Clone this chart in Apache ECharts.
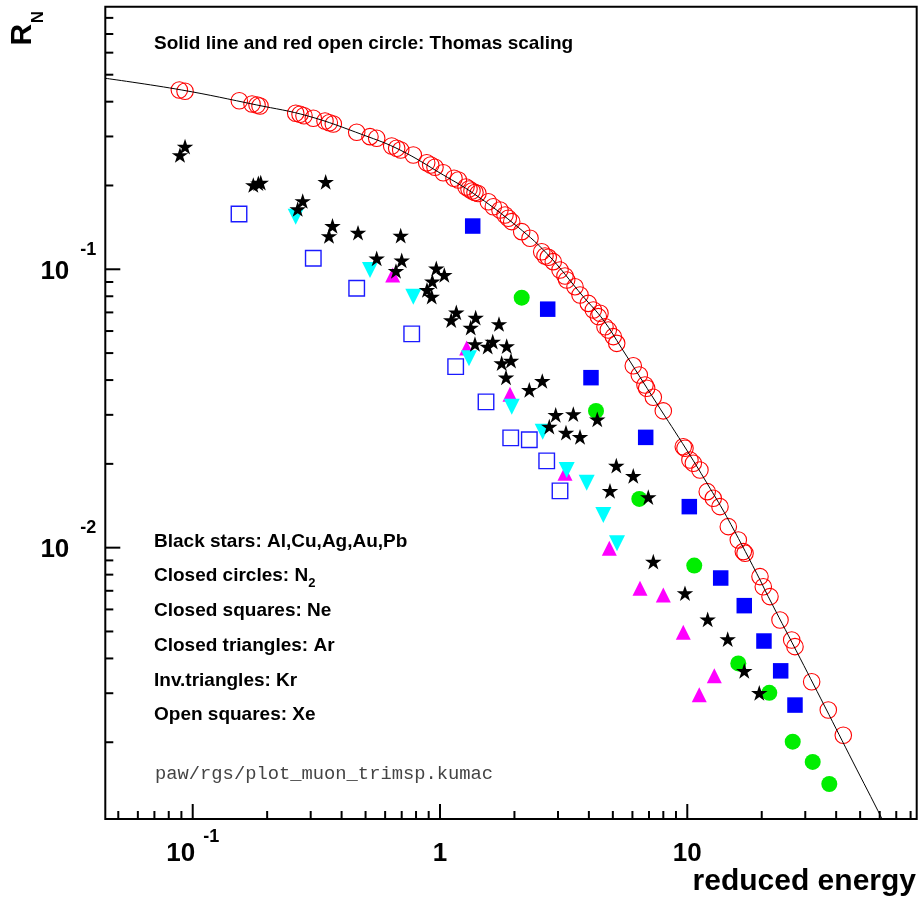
<!DOCTYPE html>
<html><head><meta charset="utf-8">
<script src="https://cdn.jsdelivr.net/npm/echarts@6/dist/echarts.min.js"></script>
<style>html,body{margin:0;padding:0;background:#fff}#c{width:918px;height:899px}</style>
</head><body><div id="c"></div>
<script>
// ---- axis ranges & ticks ----
const X_MIN = 0.04431, X_MAX = 84.67;
const Y_MIN = 0.001060, Y_MAX = 0.8775;
const xMajorTicks = [0.1, 1, 10];
const xMajorLabels = ['{b|10}{e|-1}', '{b|1}', '{b|10}'];
const xMinorTicks = [0.05,0.06,0.07,0.08,0.09,0.2,0.3,0.4,0.5,0.6,0.7,0.8,0.9,2,3,4,5,6,7,8,9,20,30,40,50,60,70,80];
const yMajorTicks = [0.01, 0.1];
const yMajorLabels = ['{b|10}{e|-2}', '{b|10}{e|-1}'];
const yMinorTicks = [0.002,0.003,0.004,0.005,0.006,0.007,0.008,0.009,0.02,0.03,0.04,0.05,0.06,0.07,0.08,0.09,0.2,0.3,0.4,0.5,0.6,0.7,0.8];

// ---- data: [reduced energy, R_N] ----
const thomasLine = [[0.04431,0.4854],[0.0903,0.4406],[0.1815,0.3893],[0.2925,0.3553],[0.4897,0.3037],[0.6892,0.2683],[1.031,0.2182],[1.363,0.1875],[1.979,0.1463],[2.701,0.1141],[3.797,0.07971],[4.575,0.06575],[5.429,0.05201],[7.519,0.03301],[9.945,0.02243],[12.36,0.01634],[14.43,0.01292],[19.08,0.008091],[21.26,0.006668],[27.51,0.004283],[36.06,0.002678],[46.77,0.001699],[61.1,0.001067],[63.0,0.00100]];
const thomasPoints = [[0.0883,0.4405],[0.0931,0.4358],[0.1543,0.4031],[0.1737,0.3923],[0.1820,0.3891],[0.1871,0.3859],[0.2609,0.3634],[0.2716,0.3604],[0.2818,0.3562],[0.3073,0.3487],[0.3427,0.3408],[0.3568,0.3361],[0.3703,0.3325],[0.4604,0.3106],[0.5210,0.2995],[0.5546,0.2955],[0.6377,0.2772],[0.6681,0.2720],[0.6935,0.2682],[0.7799,0.2573],[0.8835,0.2415],[0.9171,0.2369],[0.9545,0.2325],[1.031,0.2223],[1.139,0.2123],[1.186,0.2093],[1.274,0.1975],[1.310,0.1943],[1.347,0.1911],[1.385,0.1887],[1.424,0.1872],[1.568,0.1749],[1.643,0.1678],[1.748,0.1633],[1.832,0.1567],[1.889,0.1525],[1.950,0.1483],[2.140,0.1365],[2.312,0.1292],[2.578,0.1156],[2.658,0.1116],[2.741,0.1104],[2.871,0.1065],[3.057,0.0994],[3.202,0.0946],[3.253,0.0915],[3.515,0.0866],[3.683,0.0808],[3.978,0.0754],[4.169,0.0714],[4.366,0.0676],[4.436,0.0695],[4.647,0.0622],[4.793,0.0605],[5.022,0.0573],[5.183,0.0542],[6.047,0.0450],[6.396,0.0417],[6.745,0.0384],[6.852,0.0374],[7.288,0.0347],[7.998,0.0310],[9.634,0.02305],[9.788,0.02275],[10.25,0.02065],[10.58,0.02010],[11.25,0.01901],[12.04,0.01589],[12.74,0.01504],[13.56,0.01404],[14.65,0.01190],[16.08,0.01066],[16.85,0.00968],[17.12,0.00955],[19.68,0.00787],[20.29,0.00724],[21.60,0.00667],[23.71,0.00550],[26.44,0.00466],[27.26,0.00441],[31.84,0.00330],[37.17,0.00261],[42.74,0.00212]];
const starsMetals = [[0.0888,0.2573],[0.0931,0.2757],[0.1758,0.2008],[0.1842,0.2037],[0.1884,0.2047],[0.2658,0.1646],[0.2785,0.1759],[0.3449,0.2059],[0.3675,0.1433],[0.3557,0.1317],[0.4661,0.1353],[0.6935,0.1320],[0.5546,0.1095],[0.7002,0.1077],[0.6637,0.0986],[0.9660,0.1008],[1.041,0.0954],[0.9309,0.0904],[0.8860,0.0843],[0.9256,0.0797],[1.164,0.0700],[1.110,0.0657],[1.394,0.0670],[1.331,0.0617],[1.732,0.0636],[1.385,0.0539],[1.559,0.0527],[1.634,0.0550],[1.861,0.0530],[1.776,0.0460],[1.937,0.0470],[1.849,0.0409],[2.297,0.0369],[2.592,0.0397],[2.937,0.0300],[3.460,0.0302],[4.325,0.0289],[2.767,0.0272],[3.232,0.0259],[3.683,0.0250],[5.164,0.0197],[4.869,0.0160],[6.047,0.0181],[6.955,0.0152],[7.288,0.00891],[9.788,0.00686],[12.09,0.00553],[14.57,0.00469],[17.00,0.00361],[19.55,0.00301]];
const circlesN2 = [[2.140,0.0791],[4.274,0.0310],[6.396,0.01496],[10.67,0.00862],[16.08,0.00384],[21.46,0.00301],[26.69,0.00201],[32.15,0.00170],[37.52,0.001416],[43.02,0.001017]];
const squaresNe = [[1.356,0.1430],[2.726,0.0719],[4.079,0.0408],[6.789,0.0249],[10.19,0.01404],[13.65,0.00778],[17.00,0.00619],[20.42,0.00462],[23.86,0.00361],[27.26,0.00272]];
const trianglesAr = [[0.6437,0.0954],[1.282,0.0522],[1.919,0.0356],[3.202,0.0185],[4.837,0.00995],[6.438,0.00715],[7.998,0.00676],[9.634,0.00497],[12.86,0.00347],[11.18,0.00296]];
const invTrianglesKr = [[0.2609,0.1545],[0.5210,0.0994],[0.7799,0.0797],[1.310,0.0479],[1.950,0.0321],[2.602,0.0261],[3.253,0.0190],[3.920,0.0171],[4.575,0.0131],[5.197,0.01037]];
const openSquaresXe = [[0.1539,0.1580],[0.3073,0.1095],[0.4604,0.0855],[0.7684,0.0586],[1.157,0.0447],[1.535,0.0334],[1.932,0.0248],[2.297,0.0244],[2.701,0.0205],[3.057,0.0160]];

// ---- texts ----
const titleText = 'Solid line and red open circle: Thomas scaling';
const legendLines = ['Black stars: Al,Cu,Ag,Au,Pb', '{m|Closed circles: N}{s|2}', 'Closed squares: Ne', 'Closed triangles: Ar', 'Inv.triangles: Kr', 'Open squares: Xe'];
const legendY = [541.3, 576, 610.3, 645.5, 680.3, 715];
const macroText = 'paw/rgs/plot_muon_trimsp.kumac';
const xTitle = 'reduced energy';

const FF = '"Liberation Sans", Arial, Helvetica, sans-serif';
const STAR = 'path://M50,0L61.2,34.5L97.6,34.5L68.2,55.9L79.4,90.5L50,69.1L20.6,90.5L31.8,55.9L2.4,34.5L38.8,34.5Z';

function lookup(ticks, labels, v) {
  for (let i = 0; i < ticks.length; i++) {
    if (Math.abs(Math.log10(v) - Math.log10(ticks[i])) < 1e-6) return labels[i];
  }
  return '';
}
function tickSeries(axis, values, len) {
  return {
    type: 'custom', silent: true, z: 10, animation: false,
    data: values.map(v => axis === 'x' ? [v, Y_MIN] : [X_MIN, v]),
    renderItem: (params, api) => {
      const p = api.coord([api.value(0), api.value(1)]);
      const shape = axis === 'x'
        ? {x1: p[0], y1: p[1], x2: p[0], y2: p[1] - len}
        : {x1: p[0], y1: p[1], x2: p[0] + len, y2: p[1]};
      return {type: 'line', shape, style: {stroke: '#000', lineWidth: 2}};
    }
  };
}
function scatter(name, data, symbol, size, itemStyle, extra) {
  return Object.assign({type: 'scatter', name, data, symbol, symbolSize: size, silent: true,
    itemStyle: Object.assign({opacity: 1}, itemStyle), emphasis: {disabled: true}}, extra || {});
}

const chart = echarts.init(document.getElementById('c'), null, {renderer: 'canvas'});
const option = {
  animation: false,
  backgroundColor: '#fff',
  textStyle: {fontFamily: FF},
  grid: {left: 105.3, right: 1.3, top: 6.7, bottom: 80, show: true, borderColor: '#000', borderWidth: 2,
         containLabel: false, outerBoundsMode: 'none'},
  xAxis: {
    type: 'log', logBase: 10, min: X_MIN, max: X_MAX,
    axisLine: {show: false}, axisTick: {show: false}, splitLine: {show: false}, minorTick: {show: false},
    axisLabel: {
      margin: 14, showMinLabel: false, showMaxLabel: false,
      formatter: v => lookup(xMajorTicks, xMajorLabels, v),
      rich: {
        b: {fontFamily: FF, fontSize: 26, fontWeight: 'bold', color: '#000', height: 18, lineHeight: 30, verticalAlign: 'bottom'},
        e: {fontFamily: FF, fontSize: 18, fontWeight: 'bold', color: '#000', height: 9, lineHeight: 9, verticalAlign: 'top', padding: [0, 0, 0, 8]}
      }
    }
  },
  yAxis: {
    type: 'log', logBase: 10, min: Y_MIN, max: Y_MAX,
    axisLine: {show: false}, axisTick: {show: false}, splitLine: {show: false}, minorTick: {show: false},
    axisLabel: {
      margin: 9, showMinLabel: false, showMaxLabel: false,
      formatter: v => lookup(yMajorTicks, yMajorLabels, v),
      rich: {
        b: {fontFamily: FF, fontSize: 26, fontWeight: 'bold', color: '#000', height: 39.6, lineHeight: 44, verticalAlign: 'bottom'},
        e: {fontFamily: FF, fontSize: 18, fontWeight: 'bold', color: '#000', height: 5.4, lineHeight: 5.4, verticalAlign: 'top', padding: [0, 0, 0, 11]}
      }
    }
  },
  series: [
    tickSeries('x', xMajorTicks, 15),
    tickSeries('x', xMinorTicks, 8),
    tickSeries('y', yMajorTicks, 15),
    tickSeries('y', yMinorTicks, 8),
    scatter('N2', circlesN2, 'circle', 16, {color: '#00ee00'}),
    scatter('Ne', squaresNe, 'rect', 15.5, {color: '#0000ff'}),
    scatter('Ar', trianglesAr, 'triangle', 15, {color: '#ff00ff'}),
    scatter('Kr', invTrianglesKr, 'triangle', 16, {color: '#00ffff'}, {symbolRotate: 180}),
    scatter('Xe', openSquaresXe, 'rect', 15.5, {color: 'rgba(0,0,0,0)', borderColor: '#1a1aff', borderWidth: 1.4}),
    scatter('metals', starsMetals, STAR, 16.5, {color: '#000'}, {symbolKeepAspect: true}),
    scatter('Thomas points', thomasPoints, 'circle', 16.5, {color: 'rgba(0,0,0,0)', borderColor: '#ff0000', borderWidth: 1.1}),
    {type: 'line', name: 'Thomas', data: thomasLine, smooth: 0.4, symbol: 'none', clip: true,
     lineStyle: {color: '#000', width: 1}, silent: true, z: 3}
  ],
  graphic: [
    {type: 'text', x: 154, y: 43.3, silent: true,
     style: {text: titleText, fontFamily: FF, fontSize: 19, fontWeight: 'bold', fill: '#000', align: 'left', verticalAlign: 'middle'}},
    ...legendLines.map((t, i) => ({
      type: 'text', x: 154, y: legendY[i], silent: true,
      style: {text: t, fontFamily: FF, fontSize: 19, fontWeight: 'bold', fill: '#000', align: 'left', verticalAlign: 'middle',
        rich: {
          m: {fontFamily: FF, fontSize: 19, fontWeight: 'bold', fill: '#000', height: 20, lineHeight: 20},
          s: {fontFamily: FF, fontSize: 13, fontWeight: 'bold', fill: '#000', height: 4.8, lineHeight: 4.8, verticalAlign: 'bottom'}
        }}
    })),
    {type: 'text', x: 155, y: 774, silent: true,
     style: {text: macroText, fontFamily: '"Liberation Mono", "DejaVu Sans Mono", monospace', fontSize: 18.8, fill: '#444', align: 'left', verticalAlign: 'middle'}},
    {type: 'text', x: 22.5, y: 45.5, rotation: Math.PI / 2, silent: true,
     style: {text: 'R', fontFamily: FF, fontSize: 30, fontWeight: 'bold', fill: '#000', align: 'left', verticalAlign: 'middle'}},
    {type: 'text', x: 38, y: 23.2, rotation: Math.PI / 2, silent: true,
     style: {text: 'N', fontFamily: FF, fontSize: 17, fontWeight: 'bold', fill: '#000', align: 'left', verticalAlign: 'middle'}},
    {type: 'text', x: 916, y: 881.6, silent: true,
     style: {text: xTitle, fontFamily: FF, fontSize: 30, fontWeight: 'bold', fill: '#000', align: 'right', verticalAlign: 'middle'}}
  ]
};
chart.setOption(option);
</script>
</body></html>
